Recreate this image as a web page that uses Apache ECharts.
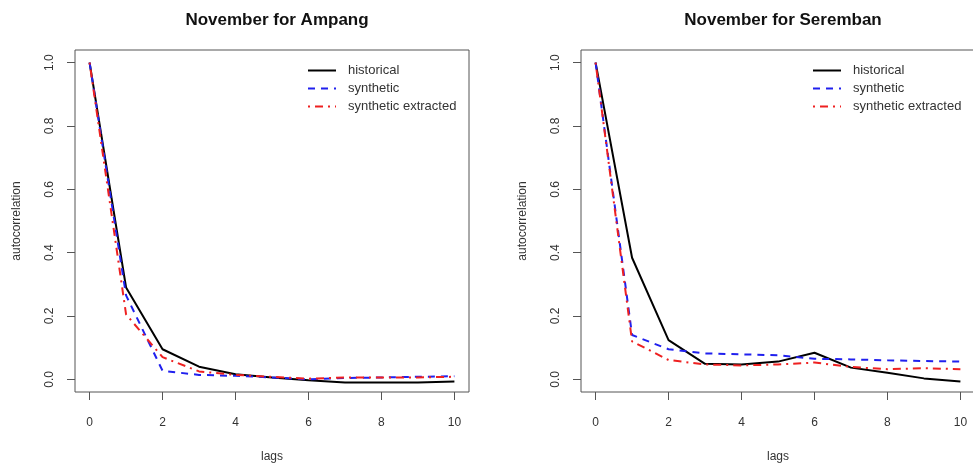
<!DOCTYPE html>
<html>
<head>
<meta charset="utf-8">
<script src="https://cdn.jsdelivr.net/npm/echarts@6/dist/echarts.min.js"></script>
<style>html,body{margin:0;padding:0;background:#fff;}#c{width:973px;height:468px;}</style>
</head>
<body>
<div id="c"></div>
<script>
const lags = [0, 1, 2, 3, 4, 5, 6, 7, 8, 9, 10];
const xTicks = [0, 2, 4, 6, 8, 10];
const yTicks = [0.0, 0.2, 0.4, 0.6, 0.8, 1.0];
const panelTitles = ['November for Ampang', 'November for Seremban'];
const seriesNames = ['historical', 'synthetic', 'synthetic extracted'];

const ampangHistorical = [1.0, 0.29, 0.095, 0.04, 0.016, 0.006, -0.003, -0.01, -0.01, -0.01, -0.007];
const ampangSynthetic = [1.0, 0.265, 0.027, 0.014, 0.011, 0.006, 0.0, 0.004, 0.006, 0.008, 0.01];
const ampangExtracted = [1.0, 0.205, 0.07, 0.025, 0.014, 0.008, 0.002, 0.006, 0.006, 0.006, 0.008];

const serembanHistorical = [1.0, 0.384, 0.124, 0.049, 0.047, 0.056, 0.084, 0.037, 0.021, 0.003, -0.007];
const serembanSynthetic = [1.0, 0.14, 0.095, 0.082, 0.079, 0.076, 0.065, 0.063, 0.06, 0.058, 0.056];
const serembanExtracted = [1.0, 0.12, 0.061, 0.047, 0.044, 0.047, 0.053, 0.039, 0.032, 0.035, 0.032];

const panels = [
  { title: panelTitles[0], values: [ampangHistorical, ampangSynthetic, ampangExtracted] },
  { title: panelTitles[1], values: [serembanHistorical, serembanSynthetic, serembanExtracted] }
];

const FONT = '"Liberation Sans", Arial, sans-serif';
const gridBoxes = [
  { left: 75, top: 50, width: 394, height: 342 },
  { left: 581, top: 50, width: 394, height: 342 }
];
const lineStyles = [
  { color: '#000000', width: 2, type: 'solid' },
  { color: '#2020ee', width: 2, type: [7, 6] },
  { color: '#ee2020', width: 2, type: [2, 5, 8, 5] }
];

const chart = echarts.init(document.getElementById('c'), null, { renderer: 'canvas' });

const option = {
  backgroundColor: '#ffffff',
  animation: false,
  title: panels.map((p, i) => ({
    text: p.title,
    left: gridBoxes[i].left + gridBoxes[i].width / 2,
    textAlign: 'center',
    top: 7,
    textStyle: { fontFamily: FONT, fontSize: 17, fontWeight: 'bold', color: '#111' }
  })),
  legend: panels.map((p, i) => ({
    data: seriesNames,
    orient: 'vertical',
    left: gridBoxes[i].left + (i === 0 ? 232 : 231),
    top: 64,
    itemWidth: 28,
    itemHeight: 12,
    itemGap: 5,
    padding: 0,
    selectedMode: false,
    itemStyle: { opacity: 0 },
    textStyle: { fontFamily: FONT, fontSize: 13, color: '#333', padding: [0, 0, 0, 7] }
  })),
  grid: gridBoxes.map(g => ({
    left: g.left, top: g.top, width: g.width, height: g.height,
    show: true, borderColor: '#555', borderWidth: 1, backgroundColor: 'transparent',
    containLabel: false, outerBoundsMode: 'none'
  })),
  xAxis: panels.map((p, i) => ({
    type: 'value', gridIndex: i, min: -0.4, max: 10.4,
    name: 'lags', nameLocation: 'middle', nameGap: 59, nameMoveOverlap: false,
    nameTextStyle: { fontFamily: FONT, fontSize: 12, color: '#333' },
    axisLine: { show: false, onZero: false },
    splitLine: { show: false },
    axisTick: { show: true, inside: false, length: 8, customValues: xTicks, lineStyle: { color: '#555' } },
    axisLabel: { customValues: xTicks, margin: 25, fontFamily: FONT, fontSize: 12, color: '#333' }
  })),
  yAxis: panels.map((p, i) => ({
    type: 'value', gridIndex: i, min: -0.04, max: 1.04,
    name: 'autocorrelation', nameLocation: 'middle', nameGap: 52, nameMoveOverlap: false,
    nameTextStyle: { fontFamily: FONT, fontSize: 12, color: '#333' },
    axisLine: { show: false, onZero: false },
    splitLine: { show: false },
    axisTick: { show: true, inside: false, length: 8, customValues: yTicks, lineStyle: { color: '#555' } },
    axisLabel: { customValues: yTicks, rotate: 90, margin: 19, fontFamily: FONT, fontSize: 12, color: '#333',
      formatter: v => v.toFixed(1) }
  })),
  series: []
};

panels.forEach((p, i) => {
  p.values.forEach((vals, k) => {
    option.series.push({
      type: 'line',
      name: seriesNames[k],
      xAxisIndex: i, yAxisIndex: i,
      data: lags.map((l, j) => [l, vals[j]]),
      symbol: 'none', showSymbol: false,
      lineStyle: lineStyles[k],
      itemStyle: { color: lineStyles[k].color },
      z: 2 + k
    });
  });
});

chart.setOption(option);
</script>
</body>
</html>
